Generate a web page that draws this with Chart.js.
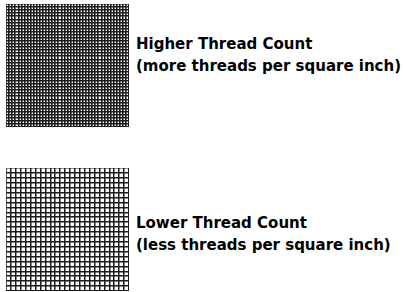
<!DOCTYPE html>
<html>
<head>
<meta charset="utf-8">
<script src="https://cdn.jsdelivr.net/npm/chart.js@4.4.1/dist/chart.umd.min.js"></script>
<style>
  body { margin: 0; background: #fff; width: 404px; height: 292px; position: relative; overflow: hidden; }
  canvas { position: absolute; }
  .label { position: absolute; left: 136px; font: bold 15px "DejaVu Sans", sans-serif; color: #000; line-height: 22px; white-space: nowrap; }
</style>
</head>
<body>
<canvas id="gridHigh" width="123" height="123" style="left:6px;top:4px"></canvas>
<canvas id="gridLow" width="123" height="123" style="left:6px;top:168px"></canvas>
<div class="label" id="labelHigh" style="top:33px"></div>
<div class="label" id="labelLow" style="top:212px"></div>
<script>
// threads across each swatch (cells per side)
const threadCounts = [40, 25];
const titles = ['Higher Thread Count', 'Lower Thread Count'];
const subtitles = ['(more threads per square inch)', '(less threads per square inch)'];
const canvasIds = ['gridHigh', 'gridLow'];
const labelIds = ['labelHigh', 'labelLow'];

const lineColors = ['#1c1c1c', '#1c1c1c'];
const lineWidths = [1.6, 1.5];

threadCounts.forEach((count, i) => {
    const axis = {
        type: 'linear',
        min: 0,
        max: count,
        ticks: { display: false, stepSize: 1, maxTicksLimit: 200 },
        grid: { color: lineColors[i], lineWidth: lineWidths[i], drawTicks: false },
        border: { color: lineColors[i], width: lineWidths[i] },
    };
    new Chart(document.getElementById(canvasIds[i]), {
        type: 'scatter',
        data: { datasets: [{ data: [] }] },
        options: {
            responsive: false,
            animation: false,
            layout: { padding: 0 },
            plugins: { legend: { display: false }, tooltip: { enabled: false } },
            scales: { x: { ...axis, position: 'bottom' }, y: { ...axis, position: 'left' } },
        },
    });
    document.getElementById(labelIds[i]).innerHTML = titles[i] + '<br>' + subtitles[i];
});
</script>
</body>
</html>
